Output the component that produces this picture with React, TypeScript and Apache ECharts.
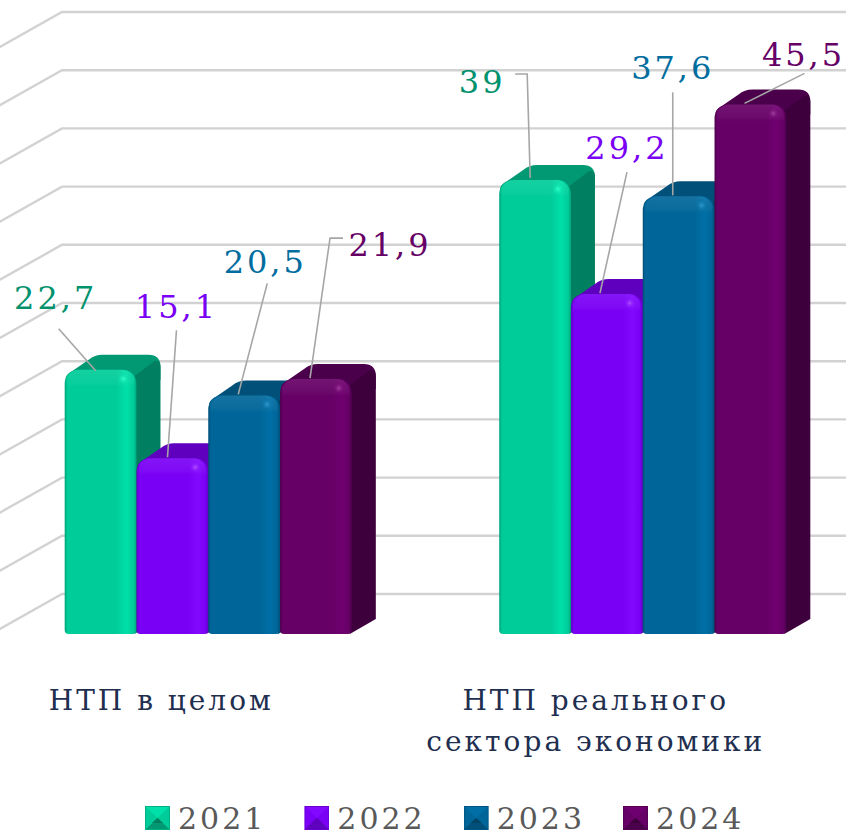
import React, { useEffect, useRef } from "react";
import * as echarts from "echarts";

const categories = ["НТП в целом", "НТП реального\nсектора экономики"];
const seriesNames = ["2021", "2022", "2023", "2024"];
const values2021 = [22.7, 39];
const values2022 = [15.1, 29.2];
const values2023 = [20.5, 37.6];
const values2024 = [21.9, 45.5];
const labels2021 = ["22,7", "39"];
const labels2022 = ["15,1", "29,2"];
const labels2023 = ["20,5", "37,6"];
const labels2024 = ["21,9", "45,5"];
const wallTicks = [0, 5, 10, 15, 20, 25, 30, 35, 40, 45, 50];

const allValues = [values2021, values2022, values2023, values2024];
const allLabels = [labels2021, labels2022, labels2023, labels2024];

const SERIF = '"DejaVu Serif"';
const palette = [
  { main: "#00CC99", light: "#00E0A8", edge: "#00a57c", top: "#009973", side: "#008060", glow: "#33FFCC", text: "#00916D", icon: "#00b386" },
  { main: "#7A00F5", light: "#8208FF", edge: "#6000c4", top: "#5E00BD", side: "#5E00BD", glow: "#B050FF", text: "#7A00F5", icon: "#7a00f5" },
  { main: "#006699", light: "#006FA6", edge: "#004f78", top: "#00507A", side: "#004466", glow: "#3399CC", text: "#006D9F", icon: "#006699" },
  { main: "#660066", light: "#700070", edge: "#4d004d", top: "#4B004B", side: "#3D003D", glow: "#A040A0", text: "#660066", icon: "#660066" },
];

// layout of leader lines and label centres, relative to each bar's front top-left corner
const leaderLayout: number[][][][] = [
  [[[31, 1], [-6, -41]], [[31, -2], [28, -106], [16, -106]]],
  [[[31, -1], [40, -128]], [[29, -1], [56, -122]]],
  [[[30, -1], [59, -112]], [[30, -1], [30, -104]]],
  [[[30, -1], [50, -141], [63, -141]], [[30, -1], [90, -31]]],
];
const labelLayout: number[][][] = [
  [[-9, -72], [-17, -98]],
  [[40, -151], [56, -146]],
  [[57, -133], [30, -128]],
  [[110, -134], [89, -49]],
];

const BAR_SHARE = 0.1652;
const DEPTH_X = 24;
const DEPTH_Y = 15;
const WALL_X = 71;
const WALL_Y = 40;

function pathEl(d: string, x0: number, y0: number, x1: number, y1: number, fill: any) {
  return {
    type: "path",
    shape: { pathData: d, layout: "cover", x: x0, y: y0, width: x1 - x0, height: y1 - y0 },
    style: { fill },
  };
}

function legendIcon(c: { top: string; main: string; light: string; side: string; edge: string }) {
  const svg =
    `<svg xmlns="http://www.w3.org/2000/svg" width="25" height="24" viewBox="0 0 25 24">` +
    `<rect width="25" height="24" fill="${c.main}"/>` +
    `<polygon points="1,1 24,1 12.5,12" fill="${c.light}"/>` +
    `<polygon points="1,23 24,23 12.5,12" fill="${c.top}"/>` +
    `<polygon points="7,17 18,17 12.5,12" fill="${c.side}"/>` +
    `<rect x="0.5" y="0.5" width="24" height="23" fill="none" stroke="${c.edge}" stroke-opacity="0.7"/>` +
    `</svg>`;
  return "image://data:image/svg+xml;utf8," + encodeURIComponent(svg);
}

function barRenderItem(seriesIndex: number) {
  return (_params: any, api: any) => {
    const cat = api.value(0) as number;
    const val = api.value(1) as number;
    const c = palette[seriesIndex];
    const top = api.coord([cat, val]);
    const base = api.coord([cat, 0]);
    const band = api.size([1, 0])[0] as number;
    const w = band * BAR_SHARE;
    const x = top[0] + (seriesIndex - 2) * w;
    const xR = x + w;
    const y = top[1];
    const b = base[1];

    const topD =
      `M${x + 1} ${y + 12} L${x + 1} ${y + 8} Q${x + 2} ${y + 4} ${x + 8} ${y + 1} ` +
      `L${x + 24} ${y - 10} Q${x + 30} ${y - DEPTH_Y} ${x + 38} ${y - DEPTH_Y} ` +
      `L${xR + 12} ${y - DEPTH_Y} Q${xR + DEPTH_X} ${y - DEPTH_Y} ${xR + DEPTH_X} ${y - 3} ` +
      `L${xR + DEPTH_X} ${y + 10} L${xR} ${y + 14} Z`;
    const sideD =
      `M${xR - 2} ${y + 7} L${xR + 18} ${y - 8} Q${xR + DEPTH_X} ${y - 9} ${xR + DEPTH_X} ${y - 2} ` +
      `L${xR + DEPTH_X} ${b - DEPTH_Y} L${xR - 2} ${b} Z`;

    const frontGrad = new echarts.graphic.LinearGradient(0, 0, 1, 0, [
      { offset: 0, color: c.edge },
      { offset: 0.04, color: c.main },
      { offset: 0.72, color: c.main },
      { offset: 0.86, color: c.light },
      { offset: 0.96, color: c.main },
      { offset: 1, color: c.edge },
    ]);
    const glow = new echarts.graphic.RadialGradient(0.5, 0.5, 0.5, [
      { offset: 0, color: c.glow },
      { offset: 1, color: c.light + "00" },
    ]);
    const bevel = new echarts.graphic.LinearGradient(0, 0, 0, 1, [
      { offset: 0, color: "rgba(255,255,255,0.08)" },
      { offset: 0.75, color: "rgba(255,255,255,0.04)" },
      { offset: 1, color: "rgba(255,255,255,0)" },
    ]);

    const i = cat;
    const leader = leaderLayout[seriesIndex][i].map((p) => [x + p[0], y + p[1]]);
    const lab = labelLayout[seriesIndex][i];

    return {
      type: "group",
      children: [
        pathEl(topD, x + 1, y - DEPTH_Y, xR + DEPTH_X, y + 14, c.top),
        pathEl(sideD, xR - 2, y - 9, xR + DEPTH_X, b, c.side),
        {
          type: "rect",
          shape: { x, y, width: w, height: b - y, r: [14, 14, 4, 4] },
          style: { fill: frontGrad },
        },
        {
          type: "rect",
          shape: { x: x + 2, y, width: w - 4, height: 17, r: [13, 13, 0, 0] },
          style: { fill: bevel },
        },
        {
          type: "circle",
          shape: { cx: xR - 13, cy: y + 9, r: 6 },
          style: { fill: glow },
        },
        {
          type: "polyline",
          shape: { points: leader },
          style: { stroke: "#A6A6A6", lineWidth: 1.6, fill: "none" },
        },
        {
          type: "text",
          style: {
            x: x + lab[0],
            y: y + lab[1],
            text: allLabels[seriesIndex][i],
            fill: c.text,
            font: `32px ${SERIF}`,
            align: "center",
            verticalAlign: "middle",
            textAlign: "center",
            textVerticalAlign: "middle",
          },
        },
      ],
    };
  };
}

function wallRenderItem(_params: any, api: any) {
  const p = api.coord([0, api.value(0)]);
  const yBack = p[1] - WALL_Y;
  const grid = (_params.coordSys as any);
  const xFront = grid.x as number;
  const xEnd = xFront + (grid.width as number);
  return {
    type: "polyline",
    shape: { points: [[xFront, p[1]], [xFront + WALL_X, yBack], [xEnd, yBack]] },
    style: { stroke: "#D2D2D2", lineWidth: 2.4, fill: "none" },
  };
}

export default function App() {
  const ref = useRef<HTMLDivElement>(null);
  useEffect(() => {
    document.body.style.margin = "0";
    const chart = echarts.init(ref.current!, undefined, { renderer: "svg" });
    chart.setOption({
      animation: false,
      backgroundColor: "#ffffff",
      grid: { left: -9, top: 52, width: 869, height: 582, containLabel: false, outerBoundsMode: "none" },
      xAxis: {
        type: "category",
        data: categories,
        axisLine: { show: false },
        axisTick: { show: false },
        splitLine: { show: false },
        axisLabel: {
          interval: 0,
          margin: 46,
          color: "#1F2F4F",
          fontFamily: SERIF,
          fontSize: 28,
          lineHeight: 41,
          verticalAlign: "top",
          padding: [0, 94, 0, 0],
        },
      },
      yAxis: { type: "value", min: 0, max: 50, interval: 5, show: false },
      legend: {
        data: seriesNames.map((n, i) => ({ name: n, icon: legendIcon(palette[i]) })),
        left: 145,
        top: 803,
        padding: 0,
        itemWidth: 25,
        itemHeight: 24,
        itemGap: 50,
        selectedMode: false,
        textStyle: { color: "#595959", fontFamily: SERIF, fontSize: 30, padding: [2, 0, 0, 3] },
      },
      series: [
        {
          type: "custom",
          name: "wall",
          silent: true,
          z: 1,
          clip: false,
          data: wallTicks.map((t) => [t]),
          encode: { y: 0 },
          renderItem: wallRenderItem,
        },
        ...seriesNames.map((name, s) => ({
          type: "custom",
          name,
          z: 2 + s,
          clip: false,
          itemStyle: { color: palette[s].main },
          data: allValues[s].map((v, i) => [i, v]),
          encode: { x: 0, y: 1 },
          renderItem: barRenderItem(s),
        })),
      ],
    });
    return () => chart.dispose();
  }, []);
  return (
    <div
      ref={ref}
      style={{ position: "absolute", left: 0, top: 0, width: 846, height: 835, letterSpacing: "3px" }}
    />
  );
}
